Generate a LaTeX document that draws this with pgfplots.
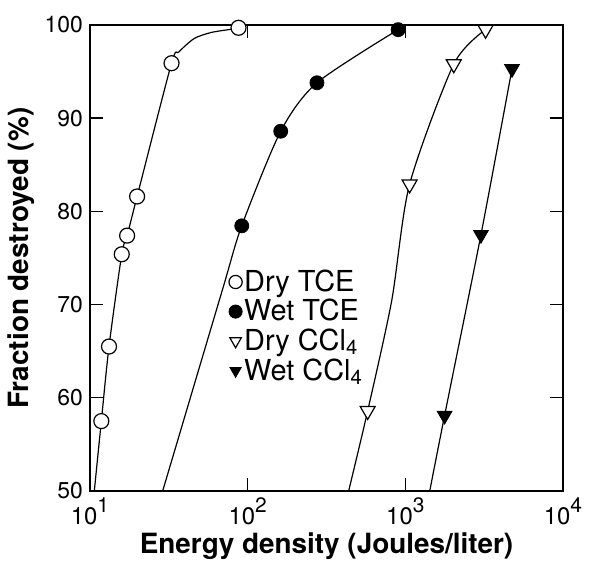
\documentclass[border=0pt]{standalone}
\usepackage{fontspec}
\setmainfont{TeX Gyre Heros}
\usepackage{pgfplots}
\pgfplotsset{compat=1.18}
\newcommand{\ex}[1]{10\raisebox{0.5em}{\fontsize{10.5}{10}\selectfont #1}}
\pgfplotsset{mylegimg/.style={legend image code/.code={\draw[##1] plot coordinates {(0bp,0bp)};}}}
\begin{document}
\begin{tikzpicture}
\begin{axis}[
  at={(0,0)}, anchor=south west, scale only axis,
  width=236.5bp, height=233bp,
  xmode=log, xmin=10, xmax=10000, ymin=50, ymax=100,
  xtick={10,100,1000,10000},
  xticklabels={\ex{1},\ex{2},\ex{3},\ex{4}},
  xminorticks=false,
  ytick={50,60,70,80,90,100},
  tick align=inside, tick pos=both,
  xticklabel pos=lower, yticklabel pos=left,
  major tick length=6.5bp,
  axis line style={line width=1.1bp},
  every tick/.style={black, line width=0.7bp},
  xticklabel style={font=\fontsize{12}{12}\selectfont},
  yticklabel style={font=\fontsize{11.5}{12}\selectfont, /pgf/number format/assume math mode=true},
  xlabel={Energy density (Joules/liter)},
  ylabel={Fraction destroyed (\%)},
  ylabel shift=-2bp,
  xlabel shift=-3bp,
  label style={font=\fontsize{14}{16}\selectfont\bfseries},
  legend style={at={(axis description cs:0.293,0.48)}, anchor=north west, draw=none, fill=none,
    font=\fontsize{14.5}{16}\selectfont, row sep=0.5bp, inner sep=0pt,
    nodes={inner sep=1bp}},
  legend cell align=left,
  legend image post style={mark size=3.3bp},
]
% curves
\addplot[black, line width=0.6bp, smooth, tension=0.45, forget plot] coordinates {
(10.65,50) (11.8,57.5) (13.2,65.5) (15.9,75.4) (17.2,77.4) (19.9,81.6) (32.9,95.9) (36.6,97.1) (45.8,98.55) (58.8,99.2) (78.9,99.55) (87.5,99.7)};
\addplot[black, line width=0.6bp, smooth, tension=0.45, forget plot] coordinates {
(28.9,50) (69.2,71.6) (91.7,78.45) (162,88.6) (275,93.8) (900,99.5)};
\addplot[black, line width=0.6bp, smooth, tension=0.45, forget plot] coordinates {
(437,50) (577,58.6) (819,70.4) (1064,82.9) (2028,95.8) (3228,99.5)};
\addplot[black, line width=0.6bp, smooth, tension=0.45, forget plot] coordinates {
(1428,50) (1774,58.1) (3017,77.5) (4748,95.3)};
% marks
\addplot[only marks, mylegimg, mark=*, mark size=3.75bp, mark options={fill=white, draw=black, line width=0.6bp}] coordinates {
(11.8,57.5) (13.2,65.5) (15.9,75.4) (17.2,77.4) (19.9,81.6) (32.9,95.9) (87.5,99.7)};
\addlegendentry{Dry TCE}
\addplot[only marks, mylegimg, mark=*, mark size=3.5bp, mark options={fill=black, draw=black}] coordinates {
(91.7,78.45) (162,88.6) (275,93.8) (900,99.5)};
\addlegendentry{Wet TCE}
\addplot[only marks, mylegimg, mark=triangle*, mark size=4.3bp, mark options={rotate=180, fill=white, draw=black, line width=0.6bp}] coordinates {
(577,58.6) (1064,82.9) (2028,95.8) (3228,99.5)};
\addlegendentry{Dry CCl\textsubscript{4}}
\addplot[only marks, mylegimg, mark=triangle*, mark size=4.3bp, mark options={rotate=180, fill=black, draw=black}] coordinates {
(1774,58.1) (3017,77.5) (4748,95.3)};
\addlegendentry{Wet CCl\textsubscript{4}}
\end{axis}
\pgfresetboundingbox
\useasboundingbox (-45bp,-35.5bp) rectangle (249.5bp,245.5bp);
\end{tikzpicture}
\end{document}
